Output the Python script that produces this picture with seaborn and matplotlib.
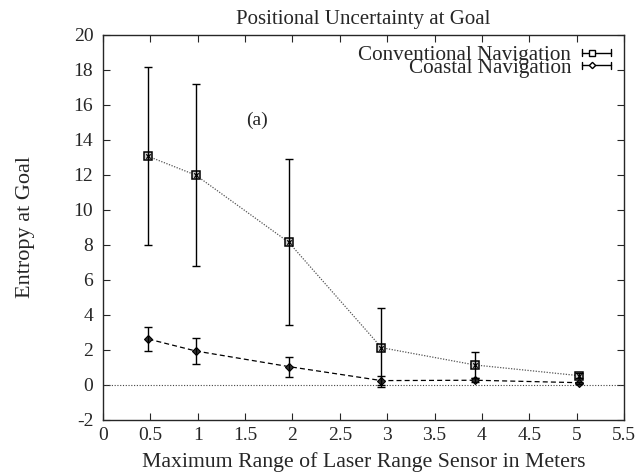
import matplotlib
matplotlib.use("Agg")
import matplotlib.pyplot as plt
import seaborn as sns
import pandas as pd
from matplotlib.lines import Line2D
from matplotlib.legend_handler import HandlerBase

ranges = [0.48, 0.98, 1.96, 2.94, 3.93, 5.03]
conv_mean = [13.05, 11.98, 8.15, 2.13, 1.14, 0.53]
conv_err = [5.08, 5.2, 4.75, 2.25, 0.76, 0.15]
coast_mean = [2.62, 1.94, 1.05, 0.25, 0.27, 0.13]
coast_err = [0.7, 0.73, 0.57, 0.25, 0.1, 0.06]
series_names = ["Conventional Navigation", "Coastal Navigation"]

sns.set_style("ticks")
plt.rcParams['font.family'] = ['Liberation Serif', 'DejaVu Serif']
plt.rcParams['font.size'] = 14
plt.rcParams['axes.unicode_minus'] = False

df = pd.DataFrame({
    "x": ranges + ranges,
    "y": conv_mean + coast_mean,
    "series": [series_names[0]] * len(ranges) + [series_names[1]] * len(ranges),
})
conv_df = df[df.series == series_names[0]]
coast_df = df[df.series == series_names[1]]

fig = plt.figure(figsize=(6.41, 4.72), dpi=100)
ax = fig.add_axes([103/641, (472-420)/472, (624-103)/641, (420-34.7)/472])

ax.axhline(0, color="#444444", lw=0.8, ls=(0, (1, 1.5)), zorder=1)

sns.lineplot(data=conv_df, x="x", y="y", ax=ax,
             color="#555555", lw=0.9, linestyle=(0, (1, 1.2)), legend=False,
             marker="s", markersize=6, markerfacecolor="#cccccc",
             markeredgecolor="black", markeredgewidth=1.1)
sns.scatterplot(data=conv_df, x="x", y="y", ax=ax, marker="x", s=10,
                color="black", linewidth=0.9, legend=False, zorder=5)
sns.lineplot(data=coast_df, x="x", y="y", ax=ax,
             color="black", lw=0.9, linestyle=(0, (4, 2.5)), legend=False,
             marker="D", markersize=4.5, markerfacecolor="#333333",
             markeredgecolor="black", markeredgewidth=0.8)

ax.errorbar(ranges, conv_mean, yerr=conv_err, fmt="none", ecolor="black",
            elinewidth=1.0, capsize=3, capthick=1.0, zorder=3)
ax.errorbar(ranges, coast_mean, yerr=coast_err, fmt="none", ecolor="black",
            elinewidth=1.0, capsize=3, capthick=1.0, zorder=3)

ax.set_xlim(0, 5.5)
ax.set_ylim(-2, 20)
ax.set_xticks([0, 0.5, 1, 1.5, 2, 2.5, 3, 3.5, 4, 4.5, 5, 5.5])
ax.set_xticklabels(["0", "0.5", "1", "1.5", "2", "2.5", "3", "3.5", "4", "4.5", "5", "5.5"])
ax.set_yticks(list(range(-2, 21, 2)))
ax.tick_params(direction="in", top=True, right=True, length=5, width=0.8,
               labelsize=14)
ax.tick_params(axis="y", pad=7)
ax.tick_params(axis="x", pad=5)
for s in ax.spines.values():
    s.set_linewidth(1.0)
    s.set_visible(True)

ax.set_xlabel("Maximum Range of Laser Range Sensor in Meters", fontsize=15.7, labelpad=6)
ax.set_ylabel("Entropy at Goal", fontsize=16, labelpad=28)
ax.set_title("Positional Uncertainty at Goal", fontsize=15, pad=7.7)
ax.text(1.63, 15.1, "(a)", fontsize=14, ha="center", va="center")


class ErrHandler(HandlerBase):
    def __init__(self, marker, ms):
        super().__init__()
        self.marker = marker
        self.ms = ms

    def create_artists(self, legend, orig_handle, xdescent, ydescent,
                       width, height, fontsize, trans):
        y = height / 2 - ydescent
        x0, x1 = -xdescent, width - xdescent
        cap = 2.3
        arts = [
            Line2D([x0, x1], [y, y], color="black", lw=1.0),
            Line2D([x0, x0], [y - cap, y + cap], color="black", lw=1.0),
            Line2D([x1, x1], [y - cap, y + cap], color="black", lw=1.0),
            Line2D([x0 + (x1 - x0) * 0.35], [y], marker=self.marker, ms=self.ms,
                   markerfacecolor="white", markeredgecolor="black", lw=0),
        ]
        for a in arts:
            a.set_transform(trans)
        return arts


h1 = Line2D([], [])
h2 = Line2D([], [])
ax.legend([h1, h2], series_names, loc="upper right", frameon=False,
          markerfirst=False, fontsize=15.2, handlelength=1.37, handletextpad=0.5,
          labelspacing=-0.33, borderaxespad=0.1, bbox_to_anchor=(0.995, 1.0),
          handler_map={h1: ErrHandler("s", 4.5), h2: ErrHandler("D", 3.2)})

fig.savefig("out.png", dpi=100)
